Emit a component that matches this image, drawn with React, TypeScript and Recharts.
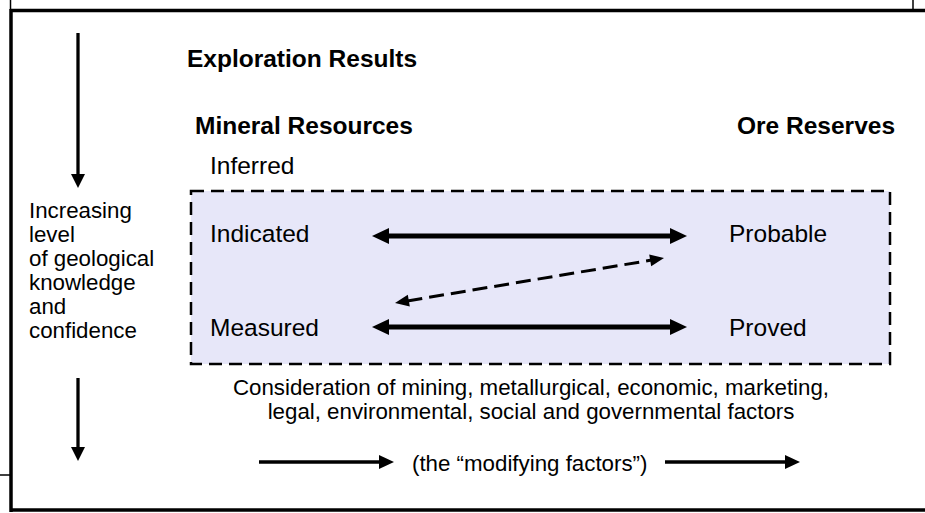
import React from 'react';
import { ComposedChart, XAxis, YAxis, Scatter, ReferenceLine, ReferenceArea } from 'recharts';

// ---- diagram content (coordinates in the diagram's own 925 x 513 units) ----
const headings = [
  { text: 'Exploration Results', x: 187, y: 67 },
  { text: 'Mineral Resources', x: 195, y: 134 },
  { text: 'Ore Reserves', x: 737, y: 134 },
];

const categories = [
  { text: 'Inferred', x: 210, y: 174 },
  { text: 'Indicated', x: 210, y: 242 },
  { text: 'Measured', x: 210, y: 336 },
  { text: 'Probable', x: 729, y: 242 },
  { text: 'Proved', x: 729, y: 336 },
];

const sideCaption = [
  { text: 'Increasing', x: 29, y: 218 },
  { text: 'level', x: 29, y: 242 },
  { text: 'of geological', x: 29, y: 266 },
  { text: 'knowledge', x: 29, y: 290 },
  { text: 'and', x: 29, y: 314 },
  { text: 'confidence', x: 29, y: 338 },
];

const factorLines = [
  { text: 'Consideration of mining, metallurgical, economic, marketing,', x: 531, y: 395 },
  { text: 'legal, environmental, social and governmental factors', x: 531, y: 419 },
];

const modifyingNote = [{ text: '(the \u201cmodifying factors\u201d)', x: 412, y: 471 }];

const confidenceBox = { x1: 191, x2: 890, y1: 191, y2: 364 };

const frameLines = [
  [{ x: 11, y: 10.5 }, { x: 925, y: 10.5 }],
  [{ x: 11, y: 9 }, { x: 11, y: 512 }],
  [{ x: 11, y: 510 }, { x: 925, y: 510 }],
];

const thinLines = [
  [{ x: 10.5, y: 0 }, { x: 10.5, y: 10 }],
  [{ x: 913, y: 0 }, { x: 913, y: 10 }],
  [{ x: 0, y: 475 }, { x: 11, y: 475 }],
];

const knowledgeArrows = [
  [{ x: 78, y: 33 }, { x: 78, y: 188 }],
  [{ x: 78, y: 378 }, { x: 78, y: 461 }],
];

const conversionArrows = [
  [{ x: 372, y: 236 }, { x: 687, y: 236 }],
  [{ x: 372, y: 327 }, { x: 687, y: 327 }],
];

const crossArrow = [{ x: 395, y: 303 }, { x: 664, y: 258 }];

const modifyingArrows = [
  [{ x: 259, y: 462 }, { x: 394, y: 462 }],
  [{ x: 665, y: 462 }, { x: 800, y: 462 }],
];

// ---- rendering helpers ----
const FONT = '"Liberation Sans", Arial, Helvetica, sans-serif';

type ArrowOpts = { width: number; head: number; half: number; start: boolean; end: boolean; dash?: string };

const arrowShape = (o: ArrowOpts) => (p: any) => {
  const x1 = Number(p.x1), y1 = Number(p.y1), x2 = Number(p.x2), y2 = Number(p.y2);
  const dx = x2 - x1, dy = y2 - y1;
  const len = Math.hypot(dx, dy) || 1;
  const ux = dx / len, uy = dy / len;
  const nx = -uy, ny = ux;
  const sx = o.start ? x1 + ux * o.head * 0.9 : x1;
  const sy = o.start ? y1 + uy * o.head * 0.9 : y1;
  const ex = o.end ? x2 - ux * o.head * 0.9 : x2;
  const ey = o.end ? y2 - uy * o.head * 0.9 : y2;
  const headPts = (tx: number, ty: number, dir: number) => {
    const bx = tx - dir * ux * o.head, by = ty - dir * uy * o.head;
    return `${tx},${ty} ${bx + nx * o.half},${by + ny * o.half} ${bx - nx * o.half},${by - ny * o.half}`;
  };
  return (
    <g>
      <line x1={sx} y1={sy} x2={ex} y2={ey} stroke="#000" strokeWidth={o.width} strokeDasharray={o.dash} />
      {o.start && <polygon points={headPts(x1, y1, -1)} fill="#000" />}
      {o.end && <polygon points={headPts(x2, y2, 1)} fill="#000" />}
    </g>
  );
};

const textShape = (style: any) => (p: any) => (
  <text x={p.cx} y={p.cy} fill="#000" fontFamily={FONT} {...style}>
    {p.payload.text}
  </text>
);

export default function App() {
  return (
    <div style={{ position: 'absolute', left: 0, top: 0, width: 925, height: 513, background: '#fff' }}>
      <ComposedChart width={925} height={513} margin={{ top: 0, right: 0, bottom: 0, left: 0 }}>
        <XAxis type="number" dataKey="x" domain={[0, 925]} allowDataOverflow hide />
        <YAxis type="number" dataKey="y" domain={[0, 513]} allowDataOverflow reversed hide />

        <ReferenceArea
          x1={confidenceBox.x1}
          x2={confidenceBox.x2}
          y1={confidenceBox.y1}
          y2={confidenceBox.y2}
          fill="#E7E7F9"
          fillOpacity={1}
          stroke="#000"
          strokeWidth={2.5}
          strokeDasharray="13 7"
          ifOverflow="visible"
        />

        {frameLines.map((s, i) => (
          <ReferenceLine key={'f' + i} segment={s} stroke="#000" strokeWidth={3.5} ifOverflow="visible" />
        ))}
        {thinLines.map((s, i) => (
          <ReferenceLine key={'t' + i} segment={s} stroke="#000" strokeWidth={1.5} ifOverflow="visible" />
        ))}
        {knowledgeArrows.map((s, i) => (
          <ReferenceLine key={'k' + i} segment={s} ifOverflow="visible"
            shape={arrowShape({ width: 3.3, head: 14, half: 7, start: false, end: true })} />
        ))}
        {conversionArrows.map((s, i) => (
          <ReferenceLine key={'c' + i} segment={s} ifOverflow="visible"
            shape={arrowShape({ width: 5, head: 17, half: 8, start: true, end: true })} />
        ))}
        <ReferenceLine segment={crossArrow} ifOverflow="visible"
          shape={arrowShape({ width: 3, head: 14, half: 6, start: true, end: true, dash: '15 7' })} />
        {modifyingArrows.map((s, i) => (
          <ReferenceLine key={'m' + i} segment={s} ifOverflow="visible"
            shape={arrowShape({ width: 3.5, head: 15, half: 7, start: false, end: true })} />
        ))}

        <Scatter data={headings} dataKey="y" isAnimationActive={false}
          shape={textShape({ fontSize: 24.5, fontWeight: 'bold' })} />
        <Scatter data={categories} dataKey="y" isAnimationActive={false}
          shape={textShape({ fontSize: 24.5 })} />
        <Scatter data={sideCaption} dataKey="y" isAnimationActive={false}
          shape={textShape({ fontSize: 22.3 })} />
        <Scatter data={factorLines} dataKey="y" isAnimationActive={false}
          shape={textShape({ fontSize: 22.3, textAnchor: 'middle' })} />
        <Scatter data={modifyingNote} dataKey="y" isAnimationActive={false}
          shape={textShape({ fontSize: 22.3 })} />
      </ComposedChart>
    </div>
  );
}
